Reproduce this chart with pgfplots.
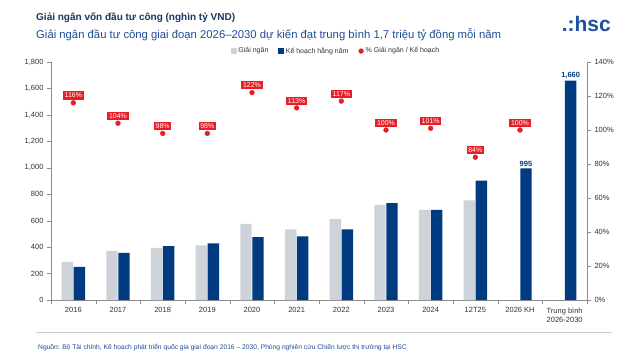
\documentclass[border=0pt]{standalone}
\usepackage{pgfplots}
\pgfplotsset{compat=1.18}
\usepackage{fontspec}
\setmainfont{Liberation Sans}
\definecolor{navy}{RGB}{0,58,128}
\definecolor{barGray}{RGB}{206,211,218}
\definecolor{hred}{RGB}{232,30,38}
\definecolor{titleC}{RGB}{23,55,94}
\definecolor{subC}{RGB}{31,78,150}
\definecolor{axC}{RGB}{140,140,140}
\definecolor{tickT}{RGB}{51,51,51}
\definecolor{logoC}{RGB}{30,80,160}
\begin{document}
\begin{tikzpicture}
\useasboundingbox (0pt,0pt) rectangle (640pt,-359pt);
\fill[white] (0pt,0pt) rectangle (640pt,-359pt);
\node[anchor=base west, font=\bfseries\fontsize{10}{12}\selectfont, text=titleC, inner sep=0] at (36pt,-20pt) {Giải ngân vốn đầu tư công (nghìn tỷ VND)};
\node[anchor=base west, font=\fontsize{11.3}{13}\selectfont, text=subC, inner sep=0] at (36pt,-38.5pt) {Giải ngân đầu tư công giai đoạn 2026–2030 dự kiến đạt trung bình 1,7 triệu tỷ đồng mỗi năm};
\node[anchor=base east, font=\bfseries\fontsize{21}{23}\selectfont, text=logoC, inner sep=0] at (611pt,-31pt) {.:hsc};
\draw[color={rgb,255:red,200;green,200;blue,200}, line width=0.8pt] (36pt,-332pt) -- (612pt,-332pt);
\node[anchor=base west, font=\fontsize{6.7}{8}\selectfont, text=subC, inner sep=0] at (38pt,-349pt) {Nguồn: Bộ Tài chính, Kế hoạch phát triển quốc gia giai đoạn 2016 – 2030, Phòng nghiên cứu Chiến lược thị trường tại HSC};

\begin{axis}[at={(51pt,-300pt)}, anchor=south west, width=536pt, height=238pt, scale only axis,
  xmin=-0.5, xmax=11.5, ymin=0, ymax=1800,
  axis x line*=bottom, axis y line*=left,
  axis line style={draw=axC, line width=0.6pt},
  ybar=0.6pt, bar width=11.4pt,
  xtick={0,...,11},
  xticklabels={2016,2017,2018,2019,2020,2021,2022,2023,2024,12T25,2026 KH,{Trung bình\\2026-2030}},
  xticklabel style={align=center, font=\fontsize{7.5}{9}\selectfont, text=tickT},
  minor xtick={-0.5,0.5,...,11.5},
  major x tick style={draw=none},
  minor x tick style={draw=axC},
  minor tick length=4pt,
  ytick={0,200,...,1800},
  yticklabel style={font=\fontsize{7.5}{9}\selectfont, text=tickT},
  y tick style={draw=axC}, major tick length=4pt,
  tick align=outside,
  /pgf/number format/.cd, 1000 sep={,}, assume math mode=true,
]
\addplot[fill=barGray, draw=none] coordinates {
(0,288) (1,371) (2,394) (3,414) (4,576) (5,535) (6,614) (7,720) (8,682) (9,753)};
\addplot[fill=navy, draw=none, point meta=explicit symbolic,
  nodes near coords,
  every node near coord/.append style={font=\bfseries\fontsize{7.5}{9}\selectfont, text=navy, inner sep=1.5pt}] coordinates {
(0,250)[] (1,356)[] (2,407)[] (3,429)[] (4,475)[] (5,482)[] (6,535)[] (7,732)[] (8,682)[] (9,902)[] (10,995)[995] (11,1660)[{1,660}]};
\end{axis}

\begin{axis}[at={(51pt,-300pt)}, anchor=south west, width=536pt, height=238pt, scale only axis,
  xmin=-0.5, xmax=11.5, ymin=0, ymax=140,
  axis x line=none, axis y line*=right,
  axis line style={draw=axC, line width=0.6pt},
  ytick={0,20,...,140},
  yticklabel={\pgfmathprintnumber{\tick}\%},
  yticklabel style={font=\fontsize{7.5}{9}\selectfont, text=tickT},
  y tick style={draw=axC}, major tick length=4pt, tick align=outside,
  /pgf/number format/assume math mode=true,
  legend columns=3,
  legend style={at={(0.532,1.046)}, anchor=center, draw=none, fill=none,
    font=\fontsize{7}{8}\selectfont, text=tickT,
    /tikz/every even column/.append style={column sep=8pt}},
]
\addlegendimage{legend image code/.code={\fill[barGray] (0pt,-2.5pt) rectangle (5pt,2.5pt);}}
\addlegendentry{Giải ngân}
\addlegendimage{legend image code/.code={\fill[navy] (0pt,-2.5pt) rectangle (5pt,2.5pt);}}
\addlegendentry{Kế hoạch hằng năm}
\addplot[only marks, mark=*, mark size=2.4pt, color=hred,
  legend image code/.code={\fill[hred] (2.5pt,0pt) circle (2.4pt);},
  nodes near coords={\pgfmathprintnumber[fixed,precision=0]{\pgfplotspointmeta}\%},
  every node near coord/.append style={fill=hred, text=white, font=\fontsize{7}{8}\selectfont, inner sep=1.6pt, anchor=south, yshift=3pt}] coordinates {
(0,116) (1,104) (2,98) (3,98) (4,122) (5,113) (6,117) (7,100) (8,101) (9,84) (10,100)};
\addlegendentry{\% Giải ngân / Kế hoạch}
\end{axis}
\end{tikzpicture}
\end{document}
